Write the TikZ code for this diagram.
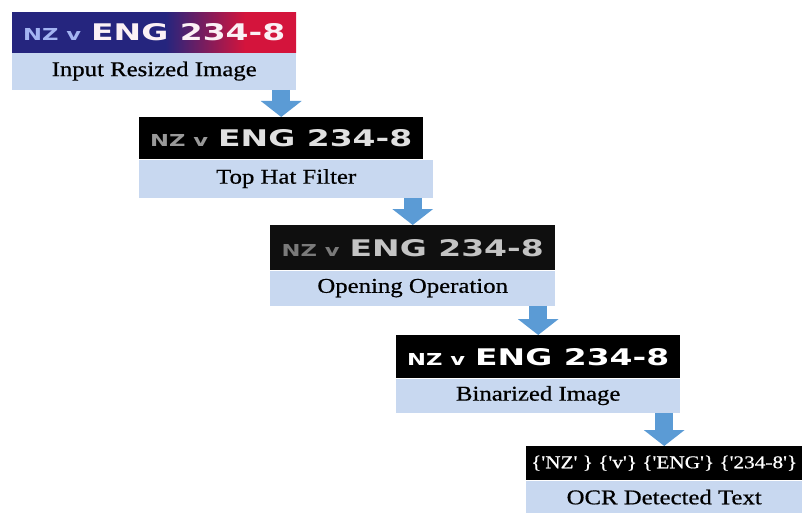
\documentclass[tikz,border=0pt]{standalone}
\usepackage{fontspec}
\usepackage{tikz}
\usetikzlibrary{arrows.meta, positioning, calc}

\setsansfont{DejaVu Sans}
\newfontfamily\rotulofont[FakeStretch=1.18, FakeBold=0.6]{Liberation Serif}

\definecolor{azulrotulo}{HTML}{C8D8F0}
\definecolor{azulflecha}{HTML}{5B9BD5}
\definecolor{marino}{HTML}{25257E}
\definecolor{carmesi}{HTML}{D4143C}
\definecolor{lila}{HTML}{A4B4F2}
\definecolor{rosado}{HTML}{FBF1F5}

\pgfdeclarehorizontalshading{franjaazul}{100bp}{color(0bp)=(marino);
  color(25bp)=(marino); color(52bp)=(marino); color(66bp)=(carmesi);
  color(75bp)=(carmesi); color(100bp)=(carmesi)}

% marcador del partido: "NZ v" medio, "ENG 234-8" grueso
\newcommand{\tanteo}[2]{{\color{#1}\resizebox{58pt}{12pt}{\sffamily\bfseries NZ v}}%
  \hspace{10pt}{\color{#2}\resizebox{194pt}{17pt}{\sffamily\bfseries ENG 234-8}}}

\begin{document}
\begin{tikzpicture}[
    x=1pt, y=-1pt,
    franja/.style={anchor=north west, minimum width=284pt, inner sep=0pt,
                   fill=black},
    rotulo/.style={anchor=north west, minimum width=284pt, inner sep=0pt,
                   fill=azulrotulo, text=black,
                   font=\rotulofont\fontsize{21}{24}\selectfont},
    flecha/.style={azulflecha, line width=18pt,
                   -{Triangle[width=40pt, length=16pt]}}
  ]
  \useasboundingbox (0,0) rectangle (802,513);

  % --- Etapa 1 ---
  \node[franja, shade, shading=franjaazul, minimum height=40pt] (img1) at (12,12)
       {\tanteo{lila}{rosado}};
  \node[rotulo, minimum height=37pt] (lbl1) at (img1.south west)
       {Input Resized Image};

  % --- Etapa 2 ---
  \node[franja, minimum height=42pt] (img2) at (139,117)
       {\tanteo{black!40}{black!12}};
  \node[rotulo, minimum height=38pt, minimum width=294pt] (lbl2)
       at (img2.south west) {Top Hat Filter};

  % --- Etapa 3 ---
  \node[franja, fill=black!94, minimum height=45pt, minimum width=285pt] (img3)
       at (270,225) {\tanteo{black!52}{black!23}};
  \node[rotulo, minimum height=35pt, minimum width=285pt] (lbl3)
       at (img3.south west) {Opening Operation};

  % --- Etapa 4 ---
  \node[franja, minimum height=43pt] (img4) at (396,335)
       {\tanteo{white}{white}};
  \node[rotulo, minimum height=34pt] (lbl4) at (img4.south west)
       {Binarized Image};

  % --- Etapa 5 ---
  \node[franja, minimum height=34pt, minimum width=276pt, text=white] (img5)
       at (526,446)
       {\resizebox{266pt}{!}{\rotulofont \{'NZ' \} \{'v'\} \{'ENG'\} \{'234-8'\}}};
  \node[rotulo, minimum height=33pt, minimum width=276pt] (lbl5)
       at (img5.south west) {OCR Detected Text};

  % --- Flechas entre etapas ---
  \draw[flecha] (lbl1.south -| img2.north) -- (img2.north);
  \draw[flecha] (lbl2.south -| img3.north) -- (img3.north);
  \draw[flecha] (lbl3.south -| img4.north) -- (img4.north);
  \draw[flecha] (lbl4.south -| img5.north) -- (img5.north);
\end{tikzpicture}
\end{document}
